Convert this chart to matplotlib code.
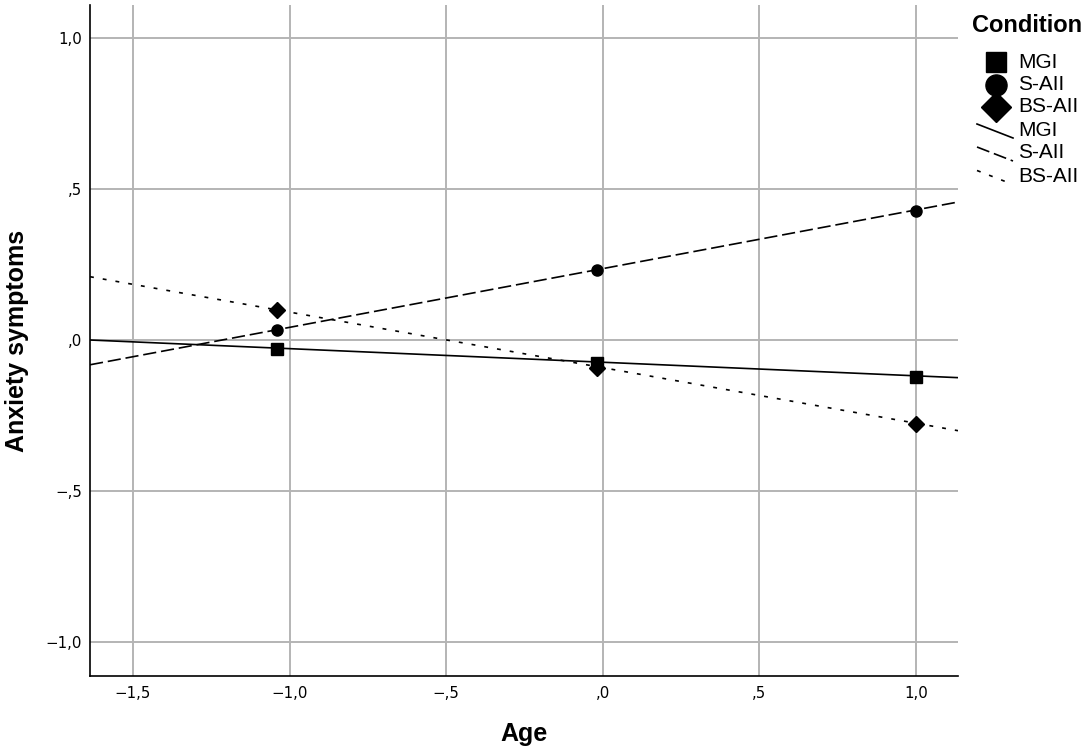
import matplotlib
matplotlib.use("Agg")
import matplotlib.pyplot as plt
from matplotlib.lines import Line2D
import numpy as np

# ---------------- data ----------------
conditions = ["MGI", "S-AII", "BS-AII"]
age_points = [-1.04, -0.02, 1.00]
mgi_means = [-0.030, -0.075, -0.121]
saii_means = [0.034, 0.233, 0.429]
bsaii_means = [0.099, -0.091, -0.276]
# fit lines: intercept, slope
fit_intercepts = [-0.073, 0.237, -0.091]
fit_slopes = [-0.045, 0.1945, -0.184]

x_ticks = [-1.5, -1.0, -0.5, 0.0, 0.5, 1.0]
x_tick_labels = ["\u22121,5", "\u22121,0", "\u2212,5", ",0", ",5", "1,0"]
y_ticks = [-1.0, -0.5, 0.0, 0.5, 1.0]
y_tick_labels = ["\u22121,0", "\u2212,5", ",0", ",5", "1,0"]

# ---------------- figure ----------------
W, H = 1084, 754
plt.rcParams["lines.scale_dashes"] = False
fig = plt.figure(figsize=(W / 100, H / 100), dpi=100)
L, R, T, B = 90, 958, 5, 676
ax = fig.add_axes([L / W, 1 - B / H, (R - L) / W, (B - T) / H])

xlim = (-1.637, 1.134)
ylim = (-1.112, 1.110)
ax.set_xlim(*xlim)
ax.set_ylim(*ylim)

tick_font = ["DejaVu Sans"]
ax.set_xticks(x_ticks)
ax.set_xticklabels(x_tick_labels, fontsize=10.8, family=tick_font)
ax.set_yticks(y_ticks)
ax.set_yticklabels(y_tick_labels, fontsize=10.8, family=tick_font)
ax.tick_params(axis="both", length=0, colors="black")
ax.tick_params(axis="x", pad=7.2)
ax.tick_params(axis="y", pad=5.8)

ax.grid(True, color="#b4b4b4", linewidth=1.4)
ax.set_axisbelow(True)
for s in ["top", "right"]:
    ax.spines[s].set_visible(False)
for s in ["left", "bottom"]:
    ax.spines[s].set_color("black")
    ax.spines[s].set_linewidth(1.2)

styles = [
    dict(linestyle="-"),
    dict(linestyle=(0, (9.5, 3.5))),
    dict(linestyle=(0, (2.8, 6.5))),
]
markers = ["s", "o", "D"]
msizes = [8, 8, 7.8]
means = [mgi_means, saii_means, bsaii_means]

xs = np.array(xlim)
for i in range(3):
    ax.plot(xs, fit_intercepts[i] + fit_slopes[i] * xs, color="black",
            linewidth=1.2, **styles[i], zorder=3, solid_capstyle="butt",
            dash_capstyle="butt")
    ax.plot(age_points, means[i], linestyle="none", marker=markers[i],
            markersize=msizes[i], color="black", zorder=4)

ax.set_xlabel("Age", fontsize=18, fontweight="bold", family="Liberation Sans")
ax.xaxis.set_label_coords(0.5, -(722 - B) / (B - T))
ax.set_ylabel("Anxiety symptoms", fontsize=18, fontweight="bold",
              family="Liberation Sans", va="center")
ax.yaxis.set_label_coords((17 - L) / (R - L), 0.5)

# ---------------- legend (manual, figure pixel coords) ----------------
def fx(px):
    return px / W

def fy(py):
    return 1 - py / H

fig.text(fx(972), fy(25), "Condition", fontsize=17, fontweight="bold",
         family="Liberation Sans", ha="left", va="center")
rows_m = [62, 85, 107]
rows_l = [130, 153, 176.5]
leg_ms = [15, 15.2, 15]
for i in range(3):
    fig.add_artist(Line2D([fx(995.5)], [fy(rows_m[i])], marker=markers[i],
                          markersize=leg_ms[i], color="black",
                          linestyle="none", transform=fig.transFigure))
    fig.text(fx(1018), fy(rows_m[i]), conditions[i], fontsize=15,
             family="Liberation Sans", ha="left", va="center")
    fig.add_artist(Line2D([fx(977), fx(1013)],
                          [fy(rows_l[i] - 6), fy(rows_l[i] + 8)],
                          color="black", linewidth=1.2, **styles[i],
                          transform=fig.transFigure))
    fig.text(fx(1018), fy(rows_l[i]), conditions[i], fontsize=15,
             family="Liberation Sans", ha="left", va="center")

fig.savefig("out.png", dpi=100, facecolor="white")
